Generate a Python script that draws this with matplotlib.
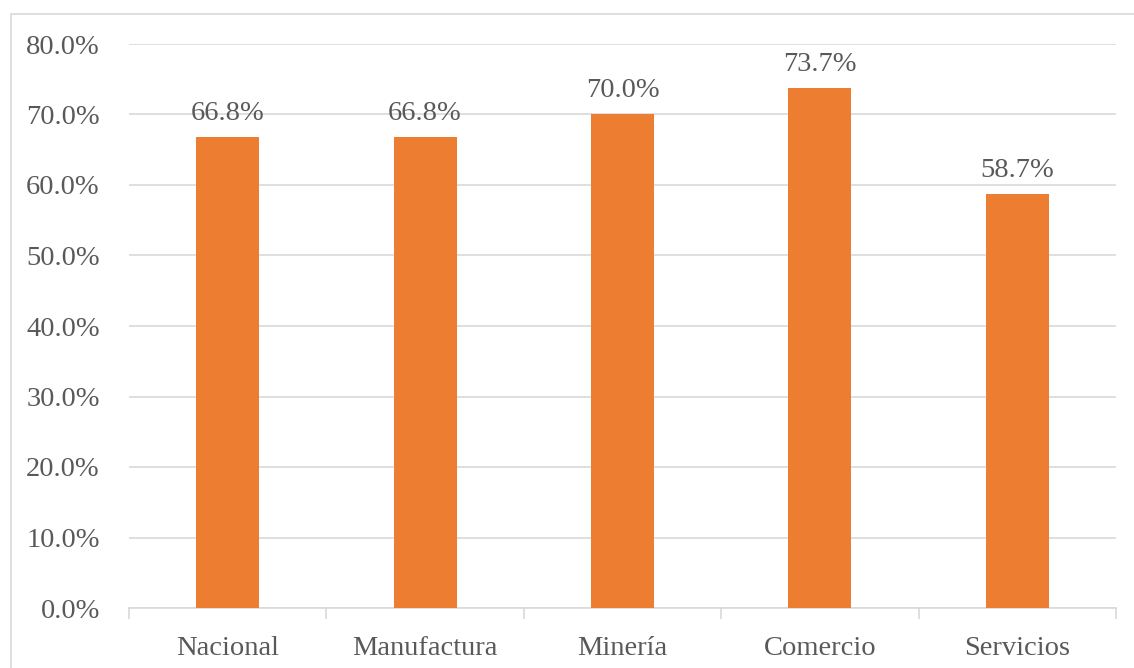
import matplotlib.pyplot as plt
from matplotlib.patches import Rectangle
from matplotlib.ticker import FuncFormatter, FixedLocator

categories = ['Nacional', 'Manufactura', 'Minería', 'Comercio', 'Servicios']
values = [66.8, 66.8, 70.0, 73.7, 58.7]

plt.rcParams['font.family'] = ['Liberation Serif', 'DejaVu Serif']
text_color = '#595959'
grid_color = '#d9d9d9'
bar_color = '#ed7d31'

fig = plt.figure(figsize=(11.34, 6.68), dpi=100)
ax = fig.add_axes([129 / 1134, 1 - 608 / 668, (1116 - 129) / 1134, (608 - 44) / 668])

# chart frame
fig.patches.append(Rectangle((11 / 1134, -0.05), 1.2, 1 - 14 / 668 + 0.05,
                             transform=fig.transFigure, fill=False,
                             edgecolor=grid_color, linewidth=1.2))

x = range(len(categories))
ax.bar(x, values, width=0.32, color=bar_color, zorder=3)
for xi, v in zip(x, values):
    ax.text(xi, v + 1.6, f'{v:.1f}%', ha='center', va='bottom',
            fontsize=20.5, color=text_color)

ax.set_ylim(0, 80)
ax.set_xlim(-0.5, len(categories) - 0.5)
ax.set_yticks(range(0, 81, 10))
ax.yaxis.set_major_formatter(FuncFormatter(lambda v, p: f'{v:.1f}%'))
ax.grid(axis='y', color=grid_color, linewidth=1.2, zorder=0)

ax.set_xticks(list(x))
ax.set_xticklabels(categories)
ax.xaxis.set_minor_locator(FixedLocator([i - 0.5 for i in range(len(categories) + 1)]))
ax.tick_params(axis='x', which='major', length=0, pad=20, labelsize=20.5, labelcolor=text_color)
ax.tick_params(axis='x', which='minor', length=8, width=1.2, color=grid_color)
ax.tick_params(axis='y', length=0, pad=21, labelsize=20.5, labelcolor=text_color)

for s in ['top', 'right', 'left']:
    ax.spines[s].set_visible(False)
ax.spines['bottom'].set_color(grid_color)
ax.spines['bottom'].set_linewidth(1.2)

fig.savefig('out.png', dpi=100)
